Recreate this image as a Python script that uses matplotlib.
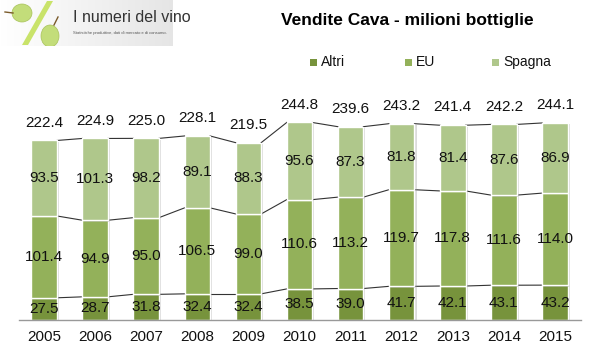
import matplotlib.pyplot as plt
import matplotlib.patheffects as pe
from matplotlib.patches import Ellipse, Polygon, Rectangle
import numpy as np

# Data
years = ['2005', '2006', '2007', '2008', '2009', '2010', '2011', '2012', '2013', '2014', '2015']
altri = [27.5, 28.7, 31.8, 32.4, 32.4, 38.5, 39.0, 41.7, 42.1, 43.1, 43.2]
eu = [101.4, 94.9, 95.0, 106.5, 99.0, 110.6, 113.2, 119.7, 117.8, 111.6, 114.0]
spagna = [93.5, 101.3, 98.2, 89.1, 88.3, 95.6, 87.3, 81.8, 81.4, 87.6, 86.9]
totals = [222.4, 224.9, 225.0, 228.1, 219.5, 244.8, 239.6, 243.2, 241.4, 242.2, 244.1]

series_names = ['Altri', 'EU', 'Spagna']
colors = ['#77933c', '#93b15a', '#afc78b']

plt.rcParams['font.family'] = ['Liberation Sans', 'DejaVu Sans']

fig = plt.figure(figsize=(6.01, 3.60), dpi=100)
ax = fig.add_axes([18.5 / 601, 40 / 360, 562 / 601, 201.8 / 360])

x = np.arange(len(years))
w = 0.5
shadow = [pe.SimplePatchShadow(offset=(1.5, -1), shadow_rgbFace='#999999', alpha=0.35), pe.Normal()]

bottom = np.zeros(len(years))
for name, vals, c in zip(series_names, [altri, eu, spagna], colors):
    vals = np.array(vals)
    bars = ax.bar(x, vals, w, bottom=bottom, color=c, edgecolor='white', linewidth=1, label=name, zorder=2)
    for b in bars:
        b.set_path_effects(shadow)
    # series lines between bars
    top = bottom + vals
    for i in range(len(years) - 1):
        ax.plot([x[i] + w / 2, x[i + 1] - w / 2], [top[i], top[i + 1]], color='#333333', lw=0.8, zorder=1)
    # segment labels
    for xi, b0, v in zip(x, bottom, vals):
        ax.text(xi, b0 + v / 2, f'{v:.1f}', ha='center', va='center', fontsize=11, color='#111111', zorder=3)
    bottom = top

for xi, t, top in zip(x, totals, bottom):
    ax.text(xi, top + 22, f'{t:.1f}', ha='center', va='center', fontsize=11, color='#111111', clip_on=False)

ax.set_xlim(-0.5, len(years) - 0.5)
ax.set_ylim(0, 250)
ax.set_xticks(x)
ax.set_xticklabels(years, fontsize=11, color='#111111')
ax.tick_params(axis='x', length=0, pad=7)
ax.set_yticks([])
for s in ['top', 'left', 'right']:
    ax.spines[s].set_visible(False)
ax.spines['bottom'].set_color('#999999')
ax.spines['bottom'].set_linewidth(1)

# Title
fig.text(407 / 601, 1 - 20 / 360, 'Vendite Cava - milioni bottiglie', ha='center', va='center',
         fontsize=12.5, fontweight='bold', family=['Liberation Sans Narrow', 'Liberation Sans'])

# Legend
leg_x = [310, 405, 492]
for lx, name, c in zip(leg_x, series_names, colors):
    fig.patches.append(Rectangle((lx / 601, 1 - 66 / 360), 7 / 601, 7 / 360, transform=fig.transFigure,
                                 facecolor=c, edgecolor='none'))
    fig.text((lx + 11) / 601, 1 - 62 / 360, name, ha='left', va='center', fontsize=10, color='#111111')

# Logo
logo = fig.add_axes([0, 1 - 46 / 360, 173 / 601, 46 / 360])
logo.set_xlim(0, 173)
logo.set_ylim(46, 0)
logo.axis('off')
grad = np.linspace(1.0, 0.9, 100).reshape(1, -1)
logo.imshow(np.dstack([grad, grad, grad]), extent=[0, 173, 46, 0], aspect='auto', zorder=0)
logo.add_patch(Polygon([[47, 1], [53, 1], [28, 45], [22, 45]], closed=True, facecolor='#c9e36a', edgecolor='none', zorder=1))
logo.add_patch(Ellipse((22, 13), 20, 18, facecolor='#c3dd7a', edgecolor='#a8c25a', lw=0.5, zorder=2))
logo.add_patch(Ellipse((50, 36), 18, 22, facecolor='#c3dd7a', edgecolor='#a8c25a', lw=0.5, zorder=2))
logo.plot([5, 13], [12, 13], color='#7a5a2a', lw=1, zorder=3)
logo.plot([54, 58], [25, 17], color='#7a5a2a', lw=1, zorder=3)
logo.text(73, 18, 'I numeri del vino', fontsize=11.5, color='#333333', va='center', ha='left',
          family=['Liberation Sans Narrow', 'Liberation Sans'])
logo.text(73, 33, 'Statistiche produttive, dati di mercato e di consumo.', fontsize=3, color='#555555',
          va='center', ha='left')

fig.savefig('out.png', dpi=100)
